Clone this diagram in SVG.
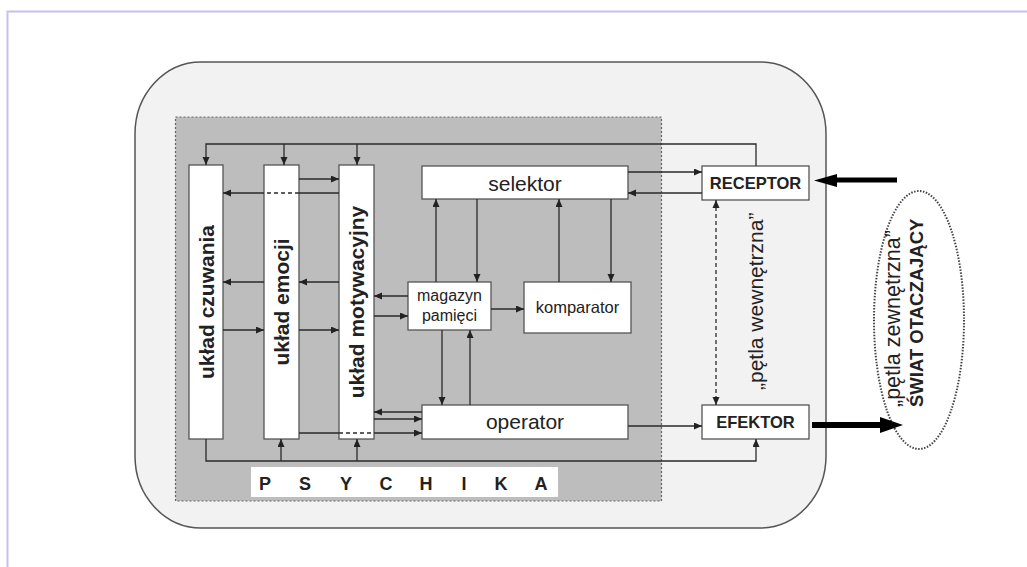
<svg xmlns="http://www.w3.org/2000/svg" width="1027" height="567" viewBox="0 0 1027 567">
<defs>
<marker id="ah" markerUnits="userSpaceOnUse" markerWidth="9" markerHeight="8" refX="8" refY="3.5" orient="auto">
<path d="M0,0 L8,3.5 L0,7 z" fill="#222"/>
</marker>
<marker id="ahs" markerUnits="userSpaceOnUse" markerWidth="9" markerHeight="8" refX="0" refY="3.5" orient="auto">
<path d="M8,0 L0,3.5 L8,7 z" fill="#222"/>
</marker>
<style>
.c{fill:none;stroke:#2a2a2a;stroke-width:1.3}
.d{fill:none;stroke:#2a2a2a;stroke-width:1.3;stroke-dasharray:4 3}
.box{fill:#fff;stroke:#555;stroke-width:1.3}
.t{font-family:"Liberation Sans",Arial,sans-serif;fill:#222}
.b{font-weight:bold}
</style>
</defs>
<rect x="0" y="0" width="1027" height="567" fill="#fff"/>
<path d="M7.5,567 V11.5 H1027" fill="none" stroke="#c9c0ea" stroke-width="2"/>
<g id="outer">
<rect x="135" y="62" width="691" height="466" rx="66" ry="72" fill="#f2f2f2" stroke="#555" stroke-width="1.5"/>
</g>
<g id="psychika">
<rect x="175.5" y="117" width="486" height="384" fill="#bdbdbd" stroke="#666" stroke-width="1.2" stroke-dasharray="2 2"/>
<rect x="251" y="467" width="307" height="30" fill="#fff"/>
<g class="t b" font-size="18" text-anchor="middle">
<text x="265" y="490">P</text><text x="305" y="490">S</text><text x="346" y="490">Y</text><text x="386" y="490">C</text><text x="426" y="490">H</text><text x="464" y="490">I</text><text x="501" y="490">K</text><text x="541" y="490">A</text>
</g>
</g>
<g id="czuwania">
<rect class="box" x="189" y="165" width="34" height="274"/>
<text class="t b" font-size="21" text-anchor="middle" transform="translate(213.5,302) rotate(-90)">układ czuwania</text>
</g>
<g id="emocji">
<rect class="box" x="264" y="165" width="35" height="274"/>
<text class="t b" font-size="21" text-anchor="middle" transform="translate(289,302) rotate(-90)">układ emocji</text>
</g>
<g id="motywacyjny">
<rect class="box" x="339" y="165" width="35" height="274"/>
<text class="t b" font-size="21" text-anchor="middle" transform="translate(364,302) rotate(-90)">układ motywacyjny</text>
</g>
<g id="selektor">
<rect class="box" x="422" y="166" width="206" height="33"/>
<text class="t" font-size="21" text-anchor="middle" x="525" y="191">selektor</text>
</g>
<g id="magazyn">
<rect class="box" x="408" y="282" width="83" height="48"/>
<text class="t" font-size="16" text-anchor="middle" x="449.5" y="301">magazyn</text>
<text class="t" font-size="16" text-anchor="middle" x="449.5" y="321">pamięci</text>
</g>
<g id="komparator">
<rect class="box" x="524" y="282" width="107" height="51"/>
<text class="t" font-size="16.5" text-anchor="middle" x="577.5" y="313">komparator</text>
</g>
<g id="operator">
<rect class="box" x="422" y="405" width="206" height="34"/>
<text class="t" font-size="21" text-anchor="middle" x="525" y="429">operator</text>
</g>
<g id="receptor">
<rect class="box" x="702" y="166" width="107" height="34"/>
<text class="t b" font-size="16.5" text-anchor="middle" x="755.5" y="189">RECEPTOR</text>
</g>
<g id="efektor">
<rect class="box" x="702" y="405" width="107" height="34"/>
<text class="t b" font-size="16.5" text-anchor="middle" x="755.5" y="428">EFEKTOR</text>
</g>
<g id="swiat">
<ellipse cx="919" cy="320" rx="45" ry="129" fill="#fff" stroke="#444" stroke-width="2" stroke-dasharray="1.5 1.5"/>
<text class="t" font-size="21.5" transform="translate(900,407) rotate(-90)">„pętla zewnętrzna”</text>
<text class="t b" font-size="18.5" transform="translate(923,407) rotate(-90)">ŚWIAT OTACZAJĄCY</text>
</g>
<g id="petla-wewn">
<text class="t" font-size="21" transform="translate(763,390) rotate(-90)">„pętla wewnętrzna”</text>
</g>
<g id="connectors">
<path class="c" d="M756,166 V144 H206 V165" marker-end="url(#ah)"/>
<path class="c" d="M284,144 V165" marker-end="url(#ah)"/>
<path class="c" d="M357,144 V165" marker-end="url(#ah)"/>
<path class="c" d="M206,439 V461 H756 V439" marker-end="url(#ah)"/>
<path class="c" d="M281,461 V439" marker-end="url(#ah)"/>
<path class="c" d="M357,461 V439" marker-end="url(#ah)"/>
<path class="c" d="M299,179 H339" marker-end="url(#ah)"/>
<path class="c" d="M339,193 H299"/>
<path class="d" d="M299,193 H264"/>
<path class="c" d="M264,193 H223" marker-end="url(#ah)"/>
<path class="c" d="M264,282 H223" marker-end="url(#ah)"/>
<path class="c" d="M339,282 H299" marker-end="url(#ah)"/>
<path class="c" d="M223,330 H264" marker-end="url(#ah)"/>
<path class="c" d="M299,330 H339" marker-end="url(#ah)"/>
<path class="c" d="M408,296 H374" marker-end="url(#ah)"/>
<path class="c" d="M374,316 H408" marker-end="url(#ah)"/>
<path class="c" d="M422,412 H374" marker-end="url(#ah)"/>
<path class="c" d="M374,419 H422" marker-end="url(#ah)"/>
<path class="c" d="M299,433 H339"/>
<path class="d" d="M339,433 H374"/>
<path class="c" d="M374,433 H422" marker-end="url(#ah)"/>
<path class="c" d="M628,172 H702" marker-end="url(#ah)"/>
<path class="c" d="M702,193 H628" marker-end="url(#ah)"/>
<path class="c" d="M436,282 V199" marker-end="url(#ah)"/>
<path class="c" d="M477,199 V282" marker-end="url(#ah)"/>
<path class="c" d="M559,282 V199" marker-end="url(#ah)"/>
<path class="c" d="M611,199 V282" marker-end="url(#ah)"/>
<path class="c" d="M491,309 H524" marker-end="url(#ah)"/>
<path class="c" d="M442,330 V405" marker-end="url(#ah)"/>
<path class="c" d="M470,405 V330" marker-end="url(#ah)"/>
<path class="c" d="M628,426 H702" marker-end="url(#ah)"/>
<path class="d" d="M716,200 V405" marker-start="url(#ahs)" marker-end="url(#ah)"/>
<path d="M897,180 H834" stroke="#000" stroke-width="5" fill="none"/>
<path d="M814,180.5 L837,174 L837,187 z" fill="#000"/>
<path d="M812,425 H882" stroke="#000" stroke-width="6" fill="none"/>
<path d="M903,425 L880,417 L880,433 z" fill="#000"/>
</g>
</svg>
